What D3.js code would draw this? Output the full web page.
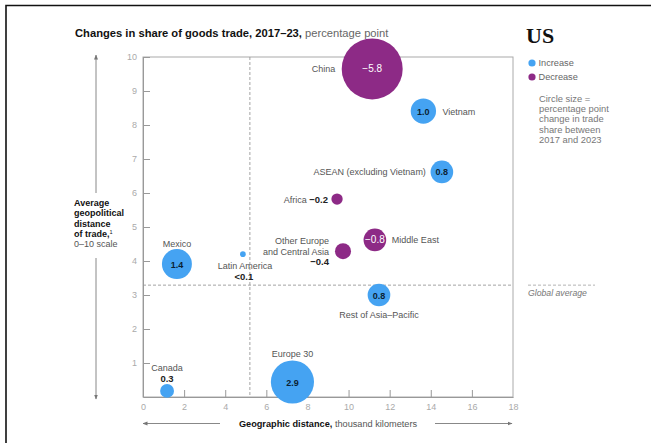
<!DOCTYPE html>
<html>
<head>
<meta charset="utf-8">
<script src="https://cdn.jsdelivr.net/npm/d3@7"></script>
<style>
  html, body { margin: 0; padding: 0; background: #fff; }
  svg { display: block; font-family: "Liberation Sans", Arial, sans-serif; }
</style>
</head>
<body>
<svg id="chart" width="660" height="443"></svg>
<script>
// US trade partners: change in goods-trade share, 2017–23
const regions = ["China", "Vietnam", "ASEAN (excluding Vietnam)", "Africa", "Middle East",
  "Other Europe and Central Asia", "Rest of Asia–Pacific", "Latin America", "Mexico", "Canada", "Europe 30"];
const geoDistance   = [11.15, 13.64, 14.54, 9.44, 11.28, 9.73, 11.48, 4.86, 1.65, 1.17, 7.27];
const geopolDistance = [9.65, 8.41, 6.62, 5.82, 4.62, 4.29, 3.0, 4.2, 3.91, 0.18, 0.44];
const shareChange   = [-5.8, 1.0, 0.8, -0.2, -0.8, -0.4, 0.8, 0.05, 1.4, 0.3, 2.9];
const valueLabels   = ["−5.8", "1.0", "0.8", "−0.2", "−0.8", "−0.4", "0.8", "<0.1", "1.4", "0.3", "2.9"];
const xTicks = [0, 2, 4, 6, 8, 10, 12, 14, 16, 18];
const yTicks = [0, 1, 2, 3, 4, 5, 6, 7, 8, 9, 10];
const globalAvgGeo = 5.2;
const globalAvgGeopol = 3.29;

const BLUE = "#45a3f2", PURPLE = "#8d2a86", NAVY = "#0b1f33", GREY = "#555", LIGHT = "#aaa";

const svg = d3.select("#chart");
const x = d3.scaleLinear().domain([0, 18]).range([143, 513]);
const y = d3.scaleLinear().domain([0, 10]).range([397, 57]);
const r = d3.scaleSqrt().domain([0, 5.8]).range([0, 30.5]);

// outer frame (top and left)
svg.append("path").attr("d", "M6,443V5.5H651").attr("fill", "none")
  .attr("stroke", "#111").attr("stroke-width", 1.6);

// title
const title = svg.append("text").attr("x", 75).attr("y", 37).attr("font-size", 11.2).attr("fill", "#111");
title.append("tspan").attr("font-weight", "bold").text("Changes in share of goods trade, 2017–23,");
title.append("tspan").attr("fill", "#666").text(" percentage point");

svg.append("text").attr("x", 526).attr("y", 43)
  .attr("font-family", "'Liberation Serif', 'DejaVu Serif', serif")
  .attr("font-weight", "bold").attr("font-size", 22).attr("fill", "#111").text("US");

// plot frame
svg.append("rect").attr("x", x(0)).attr("y", y(10)).attr("width", x(18) - x(0)).attr("height", y(0) - y(10))
  .attr("fill", "none").attr("stroke", "#aaa").attr("stroke-width", 1);

// axes with inward ticks
const yAxis = svg.append("g").attr("transform", `translate(${x(0)},0)`)
  .call(d3.axisLeft(y).tickValues(yTicks.slice(1)).tickSizeInner(-7).tickSizeOuter(0).tickPadding(6));
const xAxis = svg.append("g").attr("transform", `translate(0,${y(0)})`)
  .call(d3.axisBottom(x).tickValues(xTicks).tickSizeInner(-7).tickSizeOuter(0).tickPadding(7));
[xAxis, yAxis].forEach(g => {
  g.select(".domain").attr("stroke", "#999");
  g.selectAll(".tick line").attr("stroke", "#999");
  g.selectAll(".tick text").attr("fill", LIGHT).attr("font-size", 9)
    .attr("font-family", "'Liberation Sans', Arial, sans-serif");
});
xAxis.selectAll(".tick").filter(d => d === 0 || d === 18).select("line").remove();

// global average reference lines
svg.append("line").attr("x1", x(globalAvgGeo)).attr("x2", x(globalAvgGeo)).attr("y1", y(10)).attr("y2", y(0))
  .attr("stroke", "#999").attr("stroke-dasharray", "3,2").attr("stroke-width", 0.9);
svg.append("line").attr("x1", x(0)).attr("x2", x(18)).attr("y1", y(globalAvgGeopol)).attr("y2", y(globalAvgGeopol))
  .attr("stroke", "#999").attr("stroke-dasharray", "3,2").attr("stroke-width", 0.9);
svg.append("line").attr("x1", 528).attr("x2", 595).attr("y1", y(globalAvgGeopol)).attr("y2", y(globalAvgGeopol))
  .attr("stroke", "#aaa").attr("stroke-dasharray", "3,2").attr("stroke-width", 0.9);
svg.append("text").attr("x", 528).attr("y", y(globalAvgGeopol) + 11).attr("font-size", 8.7)
  .attr("font-style", "italic").attr("fill", "#777").text("Global average");

// axis titles with arrows
const defs = svg.append("defs");
defs.append("marker").attr("id", "arrow").attr("viewBox", "0 0 10 10").attr("refX", 9).attr("refY", 5)
  .attr("markerWidth", 5).attr("markerHeight", 5).attr("orient", "auto-start-reverse")
  .append("path").attr("d", "M0,1L10,5L0,9Z").attr("fill", "#777");
svg.append("line").attr("x1", 96).attr("x2", 96).attr("y1", 193).attr("y2", 55)
  .attr("stroke", "#888").attr("marker-end", "url(#arrow)");
svg.append("line").attr("x1", 96).attr("x2", 96).attr("y1", 258).attr("y2", 399)
  .attr("stroke", "#888").attr("marker-end", "url(#arrow)");
svg.append("line").attr("x1", 220).attr("x2", 143).attr("y1", 423.5).attr("y2", 423.5)
  .attr("stroke", "#888").attr("marker-end", "url(#arrow)");
svg.append("line").attr("x1", 435).attr("x2", 512).attr("y1", 423.5).attr("y2", 423.5)
  .attr("stroke", "#888").attr("marker-end", "url(#arrow)");

const xt = svg.append("text").attr("x", 328).attr("y", 427).attr("text-anchor", "middle").attr("font-size", 9.2);
xt.append("tspan").attr("font-weight", "bold").attr("fill", "#111").text("Geographic distance,");
xt.append("tspan").attr("fill", GREY).text(" thousand kilometers");

const yTitle = ["Average", "geopolitical", "distance", "of trade,"];
yTitle.forEach((t, i) => {
  const tx = svg.append("text").attr("x", 74).attr("y", 206 + i * 10.3).attr("font-size", 9)
    .attr("font-weight", "bold").attr("fill", "#111").text(t);
  if (i === 3) tx.append("tspan").attr("font-size", 5.5).attr("font-weight", "normal").attr("dy", -3).text("1");
});
svg.append("text").attr("x", 74).attr("y", 206 + 4 * 10.3).attr("font-size", 9).attr("fill", GREY).text("0–10 scale");

// legend
[["Increase", BLUE], ["Decrease", PURPLE]].forEach(([t, c], i) => {
  svg.append("circle").attr("cx", 532).attr("cy", 63 + i * 14).attr("r", 3.6).attr("fill", c);
  svg.append("text").attr("x", 538.5).attr("y", 66 + i * 14).attr("font-size", 9.2).attr("fill", "#666").text(t);
});
["Circle size =", "percentage point", "change in trade", "share between", "2017 and 2023"].forEach((t, i) => {
  svg.append("text").attr("x", 539).attr("y", 102 + i * 10.2).attr("font-size", 9.4).attr("fill", "#777").text(t);
});

// bubbles
const data = regions.map((name, i) => ({
  name, gx: geoDistance[i], gy: geopolDistance[i], v: shareChange[i], label: valueLabels[i]
}));
svg.append("g").selectAll("circle").data(data).join("circle")
  .attr("cx", d => x(d.gx)).attr("cy", d => y(d.gy))
  .attr("r", d => r(Math.abs(d.v)))
  .attr("fill", d => d.v < 0 ? PURPLE : BLUE);

// label placement: name lines with offsets from the bubble centre, value inside or beside
const layout = {
  "China": { inside: true, names: [["China", -37, 3.5, "end"]] },
  "Vietnam": { inside: true, names: [["Vietnam", 19, 3.5, "start"]] },
  "ASEAN (excluding Vietnam)": { inside: true, names: [["ASEAN (excluding Vietnam)", -16, 3.5, "end"]] },
  "Africa": { inline: [-9, 3.5] },
  "Middle East": { inside: true, names: [["Middle East", 17, 3.5, "start"]] },
  "Other Europe and Central Asia": { names: [["Other Europe", -14, -7.5, "end"], ["and Central Asia", -14, 3.5, "end"]], value: [-14, 14, "end"] },
  "Rest of Asia–Pacific": { inside: true, names: [["Rest of Asia–Pacific", 0, 22.5, "middle"]] },
  "Latin America": { names: [["Latin America", 2, 14.5, "middle"]], value: [1, 25.5, "middle"] },
  "Mexico": { inside: true, names: [["Mexico", 0, -17.5, "middle"]] },
  "Canada": { names: [["Canada", 0, -19.5, "middle"]], value: [0, -8.5, "middle"] },
  "Europe 30": { inside: true, names: [["Europe 30", 0, -25.5, "middle"]] }
};

const lg = svg.append("g").attr("font-size", 9);
data.forEach(d => {
  const L = layout[d.name], cx = x(d.gx), cy = y(d.gy);
  if (L.inside) {
    lg.append("text").attr("x", cx).attr("y", cy + 3.5).attr("text-anchor", "middle")
      .attr("font-weight", d.v < 0 ? "normal" : "bold").attr("font-size", d.v < 0 ? 10 : 9)
      .attr("fill", d.v < 0 ? "#fff" : NAVY).text(d.label);
  }
  (L.names || []).forEach(([t, dx, dy, a]) => {
    lg.append("text").attr("x", cx + dx).attr("y", cy + dy).attr("text-anchor", a).attr("fill", GREY).text(t);
  });
  if (L.value) {
    lg.append("text").attr("x", cx + L.value[0]).attr("y", cy + L.value[1]).attr("text-anchor", L.value[2])
      .attr("font-weight", "bold").attr("font-size", 9.5).attr("fill", "#222").text(d.label);
  }
  if (L.inline) {
    const t = lg.append("text").attr("x", cx + L.inline[0]).attr("y", cy + L.inline[1]).attr("text-anchor", "end");
    t.append("tspan").attr("fill", GREY).text(d.name + " ");
    t.append("tspan").attr("font-weight", "bold").attr("font-size", 9.5).attr("fill", "#222").text(d.label);
  }
});
</script>
</body>
</html>
